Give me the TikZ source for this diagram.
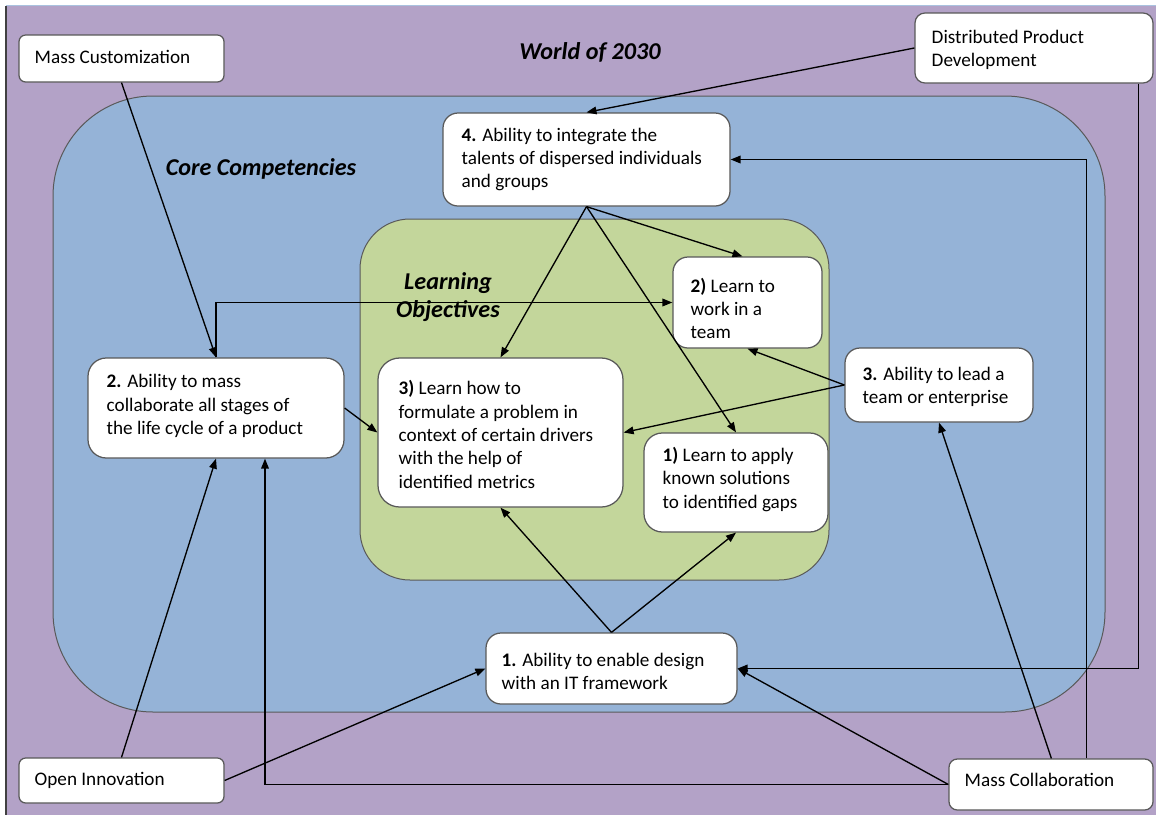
\documentclass[tikz,border=0pt]{standalone}
\usepackage{fontspec}
\setmainfont{Carlito}
\usetikzlibrary{arrows.meta,calc,fit}
\definecolor{worldpurple}{HTML}{B3A2C7}
\definecolor{coreblue}{HTML}{95B3D7}
\definecolor{objgreen}{HTML}{C3D69B}
\definecolor{boxedge}{HTML}{595959}
\begin{document}
\begin{tikzpicture}[x=0.6pt,y=-0.6pt,
  box/.style={draw=boxedge, line width=0.75pt, fill=white, inner sep=0pt, rounded corners=#1},
  box/.default=9pt,
  txt/.style={inner sep=0pt, align=left, anchor=west, font=\fontsize{11.5}{14}\selectfont},
  title/.style={inner sep=0pt, align=center, font=\fontsize{14.5}{16.8}\selectfont\bfseries\itshape},
  link/.style={line width=0.8pt, -{Triangle[length=6pt,width=4.6pt]}},
  backlink/.style={line width=0.8pt, {Triangle[length=6pt,width=4.6pt]}-}
]
\useasboundingbox (0,0) rectangle (1156,815);

% background panels
\fill[white] (0,0) rectangle (1156,815);
\fill[worldpurple] (6,6) rectangle (1156,815);
\draw[line width=0.8pt, black!75] (6,6) -- (6,815);
\draw[line width=0.8pt, coreblue!80!white] (6,5.5) -- (1156,5.5);
\draw[fill=coreblue, draw=black!65, line width=0.6pt, rounded corners=60pt] (53,96) rectangle (1105,712);
\draw[fill=objgreen, draw=black!65, line width=0.6pt, rounded corners=30pt] (360,219) rectangle (829,580);

% region titles
\node[title] (world) at (590,52) {World of 2030};
\node[title] (core) at (261,169) {Core Competencies};
\node[title] (learn) at (448,297) {Learning\\Objectives};

% outer drivers
\node[box=4pt, fit={(19,35) (224,82)}] (mcust) {};
\node[txt] (mcustT) at ($(mcust.west)+(16,-2)$) {Mass Customization};
\node[box=6pt, fit={(915,13) (1153,83)}] (dpd) {};
\node[txt] (dpdT) at ($(dpd.west)+(17,2)$) {Distributed Product\\Development};
\node[box=4pt, fit={(19,758) (224,803)}] (oinn) {};
\node[txt] (oinnT) at ($(oinn.west)+(16,0)$) {Open Innovation};
\node[box=5pt, fit={(949,759) (1153,810)}] (mcol) {};
\node[txt] (mcolT) at ($(mcol.west)+(16,-5)$) {Mass Collaboration};

% core competencies
\node[box=9pt, fit={(443,113) (730,206)}] (cc4) {};
\node[txt] (cc4T) at ($(cc4.west)+(19,0)$) {\textbf{4.} Ability to integrate the\\talents of dispersed individuals\\and groups};
\node[box=11pt, fit={(88,358) (344,458)}] (cc2) {};
\node[txt] (cc2T) at ($(cc2.west)+(19,-2)$) {\textbf{2.} Ability to mass\\collaborate all stages of\\the life cycle of a product};
\node[box=9pt, fit={(845,348) (1033,422)}] (cc3) {};
\node[txt] (cc3T) at ($(cc3.west)+(18,2)$) {\textbf{3.} Ability to lead a\\team or enterprise};
\node[box=9pt, fit={(486,633) (737,704)}] (cc1) {};
\node[txt] (cc1T) at ($(cc1.west)+(16,3)$) {\textbf{1.} Ability to enable design\\with an IT framework};

% learning objectives
\node[box=9pt, fit={(673,257) (822,348)}] (lo2) {};
\node[txt] (lo2T) at ($(lo2.west)+(18,6)$) {\textbf{2)} Learn to\\work in a\\team};
\node[box=13pt, fit={(378,358) (623,507)}] (lo3) {};
\node[txt] (lo3T) at ($(lo3.west)+(21,2)$) {\textbf{3)} Learn how to\\formulate a problem in\\context of certain drivers\\with the help of\\identified metrics};
\node[box=11pt, fit={(644,433) (828,532)}] (lo1) {};
\node[txt] (lo1T) at ($(lo1.west)+(19,-3)$) {\textbf{1)} Learn to apply\\known solutions\\to identified gaps};

% connectors
\draw[link] (mcust.south) -- (cc2.north);
\draw[backlink] (lo2.west) -| (cc2.north);
\draw[link] (cc2.east) -- (lo3.west);
\draw[link] (oinn.north) -- (cc2.south);
\draw[link] (mcol.west) -| ($(cc2.south)+(49,0)$);
\draw[link] (oinn.east) -- (cc1.west);
\draw[link] (mcol.west) -- (cc1.east);
\draw[link] ($(dpd.south east)+(-15,0)$) |- (cc1.east);
\draw[link] ($(mcol.north west)+(138,0)$) |- (cc4.east);
\draw[link] ($(mcol.north west)+(103,0)$) -- (cc3.south);
\draw[link] (dpd.west) -- (cc4.north);
\draw[link] (cc4.south) -- ($(lo2.north)+(-5,0)$);
\draw[link] (cc4.south) -- (lo3.north);
\draw[link] (cc4.south) -- (lo1.north);
\draw[link] (cc3.west) -- (lo2.south);
\draw[link] (cc3.west) -- (lo3.east);
\draw[link] (cc1.north) -- (lo3.south);
\draw[link] (cc1.north) -- (lo1.south);
\end{tikzpicture}
\end{document}
